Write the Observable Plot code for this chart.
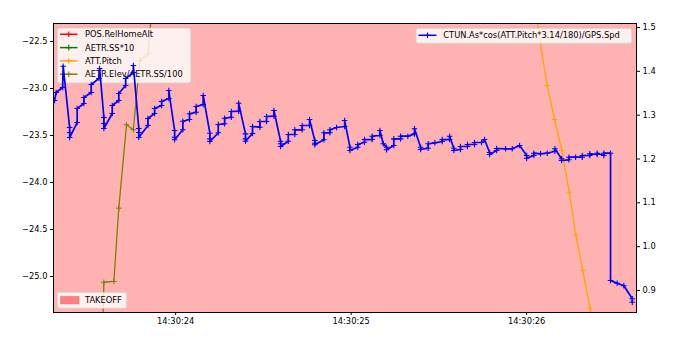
<!DOCTYPE html>
<html><head><meta charset="utf-8">
<script src="https://cdn.jsdelivr.net/npm/d3@7"></script>
<script src="https://cdn.jsdelivr.net/npm/@observablehq/plot@0.6"></script>
<style>body{margin:0;background:#fff}#chart{width:690px;height:338px}</style>
</head><body><div id="chart"></div>
<script>
// seconds after 14:30:23 (UTC clock used for display)
const ctunT = [
 0.3105,0.3191,0.3561,0.3590,
 0.3960,0.3960,0.3960,
 0.4399,0.4399,0.4775,0.4775,0.5197,0.5197,0.5630,0.5670,
 0.5915,0.5915,0.5915,
 0.6393,0.6393,0.6769,0.6769,0.7151,0.7151,0.7590,0.7590,
 0.7909,0.7909,0.7909,
 0.8422,0.8422,0.8803,0.8803,0.9202,0.9202,0.9618,0.9618,
 0.9943,0.9943,0.9943,
 1.0416,1.0416,1.0798,1.0798,1.1179,1.1179,1.1578,1.1578,
 1.1954,1.1954,1.1954,
 1.2433,1.2433,1.2792,1.2792,1.3174,1.3174,1.3590,1.3590,
 1.3989,1.3989,1.3989,
 1.4387,1.4387,1.4803,1.4803,1.5185,1.5185,1.5601,1.5601,
 1.5983,1.5983,1.5983,
 1.6422,1.6422,1.6798,1.6798,1.7219,1.7219,1.7635,1.7635,
 1.7937,1.7937,1.7937,
 1.8450,1.8450,1.8792,1.8792,1.9174,1.9630,1.9630,
 1.9932,1.9932,
 2.0387,2.0387,2.0769,2.0769,2.1208,2.1208,2.1641,2.1641,
 2.1835,2.2023,2.2023,
 2.2439,2.2439,2.2821,2.2821,2.3236,2.3618,2.3618,
 2.3960,2.3960,
 2.4399,2.4399,2.4775,2.5197,2.5197,2.5613,2.5613,
 2.5858,2.5858,
 2.6239,2.6239,2.6638,2.6638,2.7037,2.7037,2.7436,2.7607,
 2.7892,2.7892,
 2.8291,2.8291,2.8803,2.9185,2.9601,
 3.0000,3.0000,
 3.0416,3.0416,3.0798,3.1179,3.1613,3.1613,
 3.1994,3.1994,
 3.2410,3.2410,3.2792,3.3174,3.3174,3.3607,3.3607,3.4028,3.4028,3.4405,3.4405,3.4786,
 3.4786,3.5168,3.5544,3.6023,3.6023
];
const ctunV = [
 1.3334,1.3517,1.3631,1.4117,
 1.2718,1.2604,1.2490,
 1.2832,1.3152,1.3266,1.3403,1.3517,1.3699,1.3836,1.4064,
 1.2946,1.2810,1.2695,
 1.3038,1.3220,1.3334,1.3494,1.3676,1.3836,1.3973,1.4133,
 1.2695,1.2604,1.2490,
 1.2764,1.2923,1.3038,1.3152,1.3220,1.3311,1.3380,1.3562,
 1.2650,1.2497,1.2438,
 1.2666,1.2862,1.2901,1.3031,1.3067,1.3197,1.3243,1.3448,
 1.2588,1.2460,1.2399,
 1.2597,1.2787,1.2803,1.2930,1.2953,1.3083,1.3090,1.3273,
 1.2574,1.2460,1.2406,
 1.2581,1.2741,1.2725,1.2855,1.2855,1.2969,1.2976,1.3106,
 1.2406,1.2347,1.2285,
 1.2406,1.2559,1.2559,1.2666,1.2666,1.2764,1.2764,1.2901,
 1.2422,1.2360,1.2324,
 1.2438,1.2597,1.2597,1.2666,1.2718,1.2741,1.2878,
 1.2269,1.2194,
 1.2269,1.2331,1.2383,1.2444,1.2444,1.2520,1.2536,1.2650,
 1.2347,1.2269,1.2210,
 1.2308,1.2460,1.2460,1.2520,1.2520,1.2574,1.2689,
 1.2269,1.2216,
 1.2246,1.2347,1.2369,1.2399,1.2444,1.2444,1.2520,
 1.2246,1.2194,
 1.2216,1.2285,1.2285,1.2331,1.2331,1.2376,1.2376,1.2444,
 1.2147,1.2103,
 1.2194,1.2239,1.2232,1.2232,1.2308,
 1.2080,1.2018,
 1.2080,1.2132,1.2118,1.2132,1.2177,1.2232,
 1.2004,1.1965,
 1.1981,1.2041,1.2041,1.2041,1.2080,1.2080,1.2118,1.2103,1.2132,1.2080,1.2132,1.2132,
 0.9228,0.9166,0.9107,0.8810,0.8733
];
const elevT = [0.5829,0.5915,0.6484,0.6769,0.7208,0.7590,0.7966,0.8444,0.8832];
const elevV = [-25.734,-25.061,-25.053,-24.273,-23.386,-23.439,-22.702,-22.631,-21.680];
const pitchT = [3.0342,3.0758,3.1179,3.1595,3.2011,3.2433,3.2809,3.3208,3.3607,3.4017];
const pitchV = [-21.851,-22.489,-22.968,-23.330,-23.660,-24.103,-24.556,-24.936,-25.333,-25.734];

const xTickSeconds = [1, 2, 3]; // 14:30:24, 14:30:25, 14:30:26
const leftTicks = [-25.0, -24.5, -24.0, -23.5, -23.0, -22.5];
const rightTicks = [0.9, 1.0, 1.1, 1.2, 1.3, 1.4, 1.5];
const xDomainSec = [0.3048, 3.6268];
const leftDomain = [-25.383, -22.309];
const rightDomain = [0.8498, 1.5091];

const leftLegend = ["POS.RelHomeAlt", "AETR.SS*10", "ATT.Pitch", "AETR.Elev/AETR.SS/100"];
const leftLegendColors = ["red", "green", "orange", "olive"];
const rightLegend = ["CTUN.As*cos(ATT.Pitch*3.14/180)/GPS.Spd"];
const spanLegend = ["TAKEOFF"];

const BASE = Date.UTC(2023, 0, 1, 14, 30, 23);
const toDate = s => new Date(BASE + s * 1000);
const k = (leftDomain[1] - leftDomain[0]) / (rightDomain[1] - rightDomain[0]);
const toL = v => leftDomain[0] + (v - rightDomain[0]) * k;
const fromL = y => rightDomain[0] + (y - leftDomain[0]) / k;

const ctun = ctunT.map((t, i) => ({x: toDate(t), y: toL(ctunV[i])}));
const elev = elevT.map((t, i) => ({x: toDate(t), y: elevV[i]}));
const pitch = pitchT.map((t, i) => ({x: toDate(t), y: pitchV[i]}));

const plus = {draw(ctx, size) {
  const r = Math.sqrt(size / Math.PI);
  ctx.moveTo(-r, 0); ctx.lineTo(r, 0); ctx.moveTo(0, -r); ctx.lineTo(0, r);
}};
const minus = d => d.toFixed(1).replace("-", "\u2212");

const chart = Plot.plot({
  width: 690, height: 338,
  marginLeft: 53, marginRight: 54, marginTop: 23, marginBottom: 26,
  style: {fontFamily: "DejaVu Sans", fontSize: "8.3px", color: "#000", background: "#fff"},
  x: {type: "utc", domain: xDomainSec.map(toDate)},
  y: {domain: leftDomain},
  marks: [
    Plot.frame({fill: "#ffb2b2", stroke: null}),
    Plot.line(elev, {x: "x", y: "y", stroke: "olive", strokeWidth: 1.3, clip: true}),
    Plot.dot(elev, {x: "x", y: "y", symbol: plus, r: 2.8, stroke: "olive", fill: "none", strokeWidth: 1, clip: true}),
    Plot.line(pitch, {x: "x", y: "y", stroke: "orange", strokeWidth: 1.3, clip: true}),
    Plot.dot(pitch, {x: "x", y: "y", symbol: plus, r: 2.8, stroke: "orange", fill: "none", strokeWidth: 1, clip: true}),
    Plot.line(ctun, {x: "x", y: "y", stroke: "blue", strokeWidth: 1.7, clip: true}),
    Plot.dot(ctun, {x: "x", y: "y", symbol: plus, r: 2.8, stroke: "blue", fill: "none", strokeWidth: 1.1, clip: true}),
    Plot.axisX({ticks: xTickSeconds.map(toDate), tickFormat: d3.utcFormat("%H:%M:%S"), tickSize: 3, tickPadding: 3, label: null}),
    Plot.axisY({ticks: leftTicks, tickFormat: minus, tickSize: 3, tickPadding: 3, label: null}),
    Plot.axisY(rightTicks.map(toL), {anchor: "right", tickFormat: d => fromL(d).toFixed(1), tickSize: 3, tickPadding: 3, label: null}),
    Plot.frame({stroke: "#000", strokeWidth: 1})
  ]
});
document.getElementById("chart").appendChild(chart);

// legends (matplotlib-style boxes inside the axes)
const svg = d3.select(chart);
function box(g, x, y, w, h) {
  g.append("rect").attr("x", x).attr("y", y).attr("width", w).attr("height", h)
    .attr("rx", 2.5).attr("fill", "#fff").attr("fill-opacity", 0.8)
    .attr("stroke", "#d0d0d0").attr("stroke-width", 0.8);
}
function handle(g, x0, x1, y, color) {
  g.append("line").attr("x1", x0).attr("x2", x1).attr("y1", y).attr("y2", y)
    .attr("stroke", color).attr("stroke-width", 1.5);
  const m = (x0 + x1) / 2;
  g.append("path").attr("d", `M${m - 2.8},${y}H${m + 2.8}M${m},${y - 2.8}V${y + 2.8}`)
    .attr("stroke", color).attr("stroke-width", 1.1).attr("fill", "none");
}
function label(g, x, y, text) {
  g.append("text").attr("x", x).attr("y", y).attr("dy", "0.35em")
    .attr("text-anchor", "start")
    .attr("font-family", "DejaVu Sans").attr("font-size", "8.3px").attr("fill", "#000").text(text);
}
const gL = document.createElementNS("http://www.w3.org/2000/svg", "g");
const gl = d3.select(gL);
box(gl, 57.3, 28, 133.5, 55);
leftLegend.forEach((name, i) => {
  const y = 34.3 + i * 13.3;
  handle(gl, 60, 77.5, y, leftLegendColors[i]);
  label(gl, 85, y, name);
});
// place the left legend above the left-axis lines but below the twin-axis (blue) line
const blueGroups = chart.querySelectorAll('g[stroke="blue"]');
if (blueGroups.length) blueGroups[0].parentNode.insertBefore(gL, blueGroups[0]);
else chart.appendChild(gL);

const gr = svg.append("g");
box(gr, 416, 28.3, 215.7, 15);
handle(gr, 418.5, 436.5, 35.3, "blue");
label(gr, 443.3, 35.3, rightLegend[0]);

const gs = svg.append("g");
box(gs, 57.3, 292.3, 69.4, 16);
gs.append("rect").attr("x", 60.7).attr("y", 296.6).attr("width", 18.3).attr("height", 7.3)
  .attr("fill", "#ff8080").attr("stroke", "#ff6060").attr("stroke-width", 0.6);
label(gs, 85, 300.2, spanLegend[0]);
</script>
</body></html>
